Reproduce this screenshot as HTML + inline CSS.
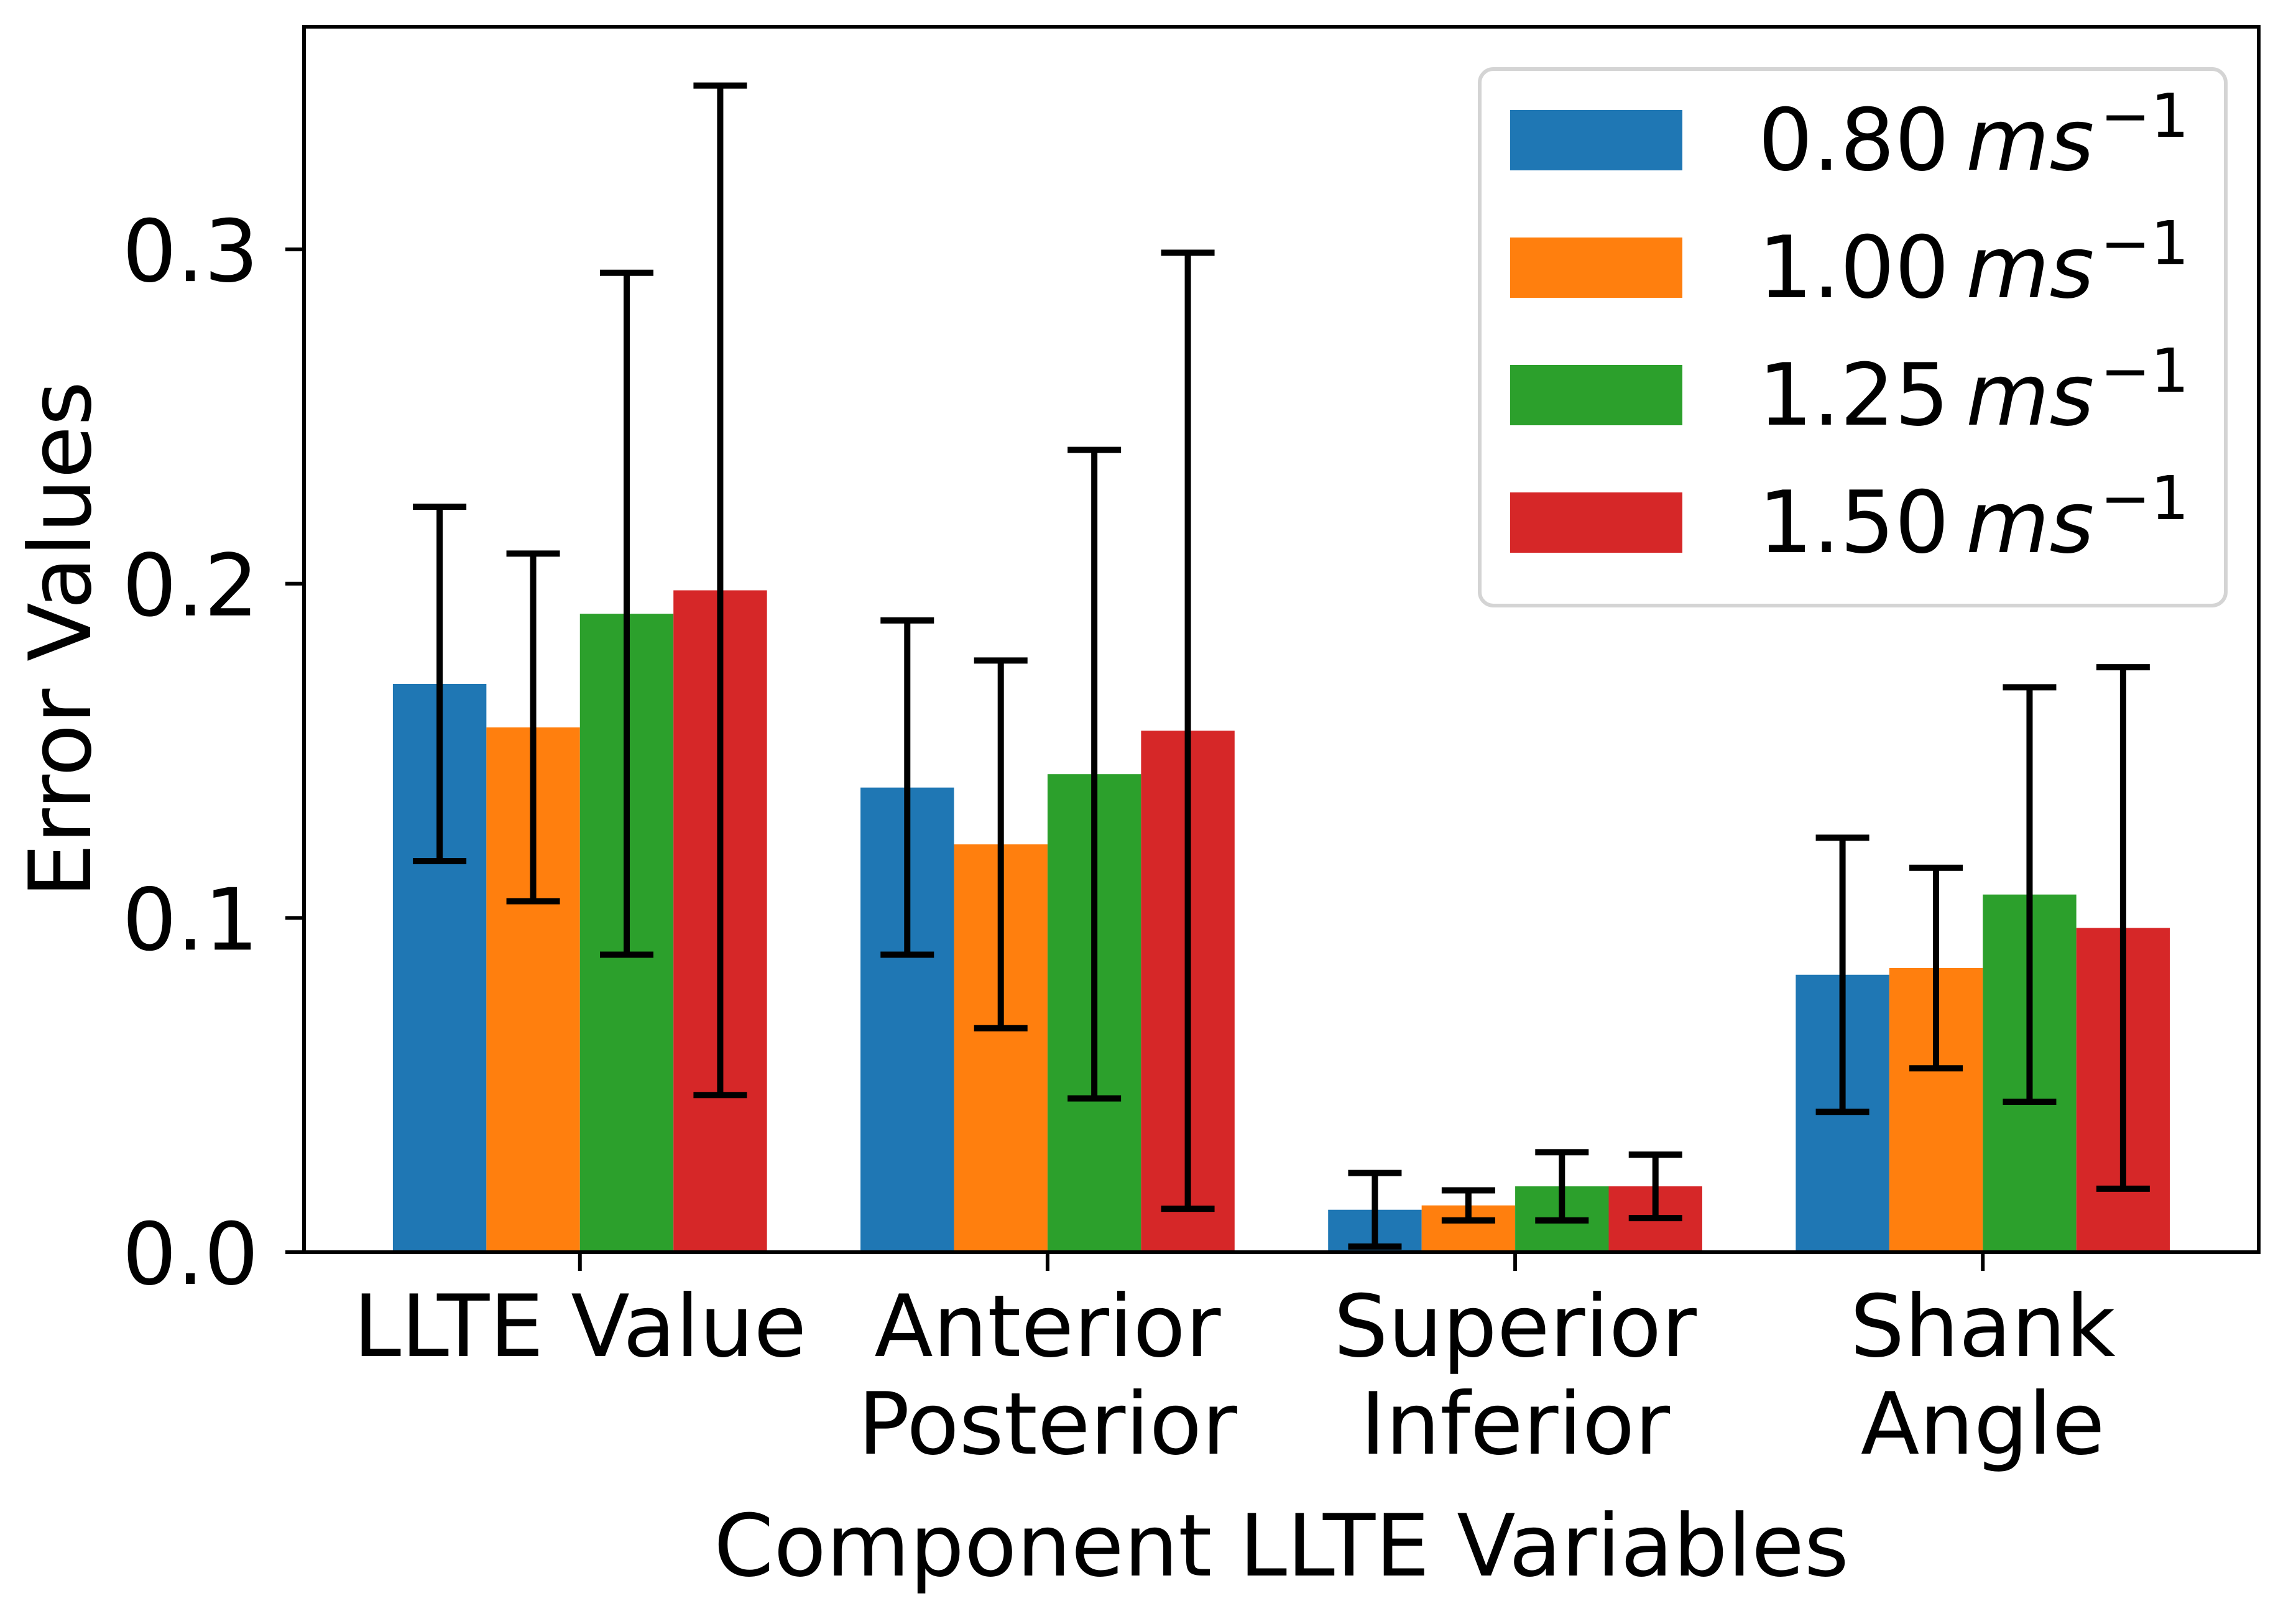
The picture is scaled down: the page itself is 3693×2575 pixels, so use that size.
<!DOCTYPE html>
<html><head><meta charset="utf-8"><style>
html,body{margin:0;padding:0;background:#fff;}
svg{display:block;font-family:"DejaVu Sans","Liberation Sans",sans-serif;}
</style></head><body>
<svg id="chart" width="3693" height="2575" viewBox="0 0 3693 2575" xmlns="http://www.w3.org/2000/svg">
<rect width="3693" height="2575" fill="#fff"/>
<g id="bars"></g>
<g id="errs"></g>
<g id="axes"></g>
</svg>
<script>
const categories = [["LLTE Value"], ["Anterior", "Posterior"], ["Superior", "Inferior"], ["Shank", "Angle"]];
const seriesNames = ["0.80", "1.00", "1.25", "1.50"];
const seriesColors = ["#1f77b4", "#ff7f0e", "#2ca02c", "#d62728"];
const means0 = [0.170, 0.139, 0.0127, 0.083];
const means1 = [0.157, 0.122, 0.0140, 0.085];
const means2 = [0.191, 0.143, 0.0197, 0.107];
const means3 = [0.198, 0.156, 0.0197, 0.097];
const errs0 = [0.053, 0.050, 0.011, 0.041];
const errs1 = [0.052, 0.055, 0.0045, 0.030];
const errs2 = [0.102, 0.097, 0.0102, 0.062];
const errs3 = [0.151, 0.143, 0.0095, 0.078];
const yTicks = [0.0, 0.1, 0.2, 0.3];
const yTickLabels = ["0.0", "0.1", "0.2", "0.3"];

const NS = "http://www.w3.org/2000/svg";
const L = 489, R = 3633, T = 43, B = 2014;
const xMin = -0.59, xMax = 3.59, yMin = 0, yMax = 0.3666;
const FS = 138;
const xs = v => L + (v - xMin) / (xMax - xMin) * (R - L);
const ys = v => B - (v - yMin) / (yMax - yMin) * (B - T);
function mk(tag, attrs, parent) {
  const e = document.createElementNS(NS, tag);
  for (const k in attrs) e.setAttribute(k, attrs[k]);
  parent.appendChild(e);
  return e;
}
const means = [means0, means1, means2, means3];
const errs = [errs0, errs1, errs2, errs3];
const barsG = document.getElementById('bars');
const errsG = document.getElementById('errs');
const axesG = document.getElementById('axes');
const bw = 0.2, capHalf = 43;
for (let s = 0; s < 4; s++) {
  for (let c = 0; c < categories.length; c++) {
    const cx = c + (s - 1.5) * bw;
    const v = means[s][c], e = errs[s][c];
    const r = mk('rect', {x: xs(cx - bw / 2), y: ys(v), width: xs(cx + bw / 2) - xs(cx - bw / 2), height: ys(0) - ys(v), fill: seriesColors[s]}, barsG);
    
    
    const g = mk('g', {stroke: '#000', 'stroke-width': 10}, errsG);
    
    
    const px = xs(cx);
    mk('line', {x1: px, x2: px, y1: ys(v + e), y2: ys(v - e)}, g);
    mk('line', {x1: px - capHalf, x2: px + capHalf, y1: ys(v + e), y2: ys(v + e)}, g);
    mk('line', {x1: px - capHalf, x2: px + capHalf, y1: ys(v - e), y2: ys(v - e)}, g);
  }
}
const frame = mk('rect', {x: L, y: T, width: R - L, height: B - T, fill: 'none', stroke: '#000', 'stroke-width': 6}, axesG);


for (let i = 0; i < yTicks.length; i++) {
  const y = ys(yTicks[i]);
  const tk = mk('line', {x1: L - 30, x2: L, y1: y, y2: y, stroke: '#000', 'stroke-width': 6}, axesG);
  
  
  const t = mk('text', {x: 416, y: y + 51, 'text-anchor': 'end', 'font-size': FS, fill: '#000'}, axesG);
  t.textContent = yTickLabels[i];
  
  
}
for (let c = 0; c < categories.length; c++) {
  const x = xs(c);
  const tk = mk('line', {x1: x, x2: x, y1: B, y2: B + 30, stroke: '#000', 'stroke-width': 6}, axesG);
  
  
  const t = mk('text', {x: x, y: 2181, 'text-anchor': 'middle', 'font-size': FS, fill: '#000'}, axesG);
  
  
  categories[c].forEach((line, i) => {
    const ts = mk('tspan', {x: x, y: 2181 + i * 157}, t);
    ts.textContent = line;
  });
}
const xt = mk('text', {x: (L + R) / 2, y: 2534, 'text-anchor': 'middle', 'font-size': FS, fill: '#000'}, axesG);
xt.textContent = 'Component LLTE Variables';


const yt = mk('text', {x: 0, y: 0, 'text-anchor': 'middle', 'font-size': FS, fill: '#000', transform: 'translate(145,' + ((T + B) / 2) + ') rotate(-90)'}, axesG);
yt.textContent = 'Error Values';


const lg = mk('g', {}, axesG);


mk('rect', {x: 2380, y: 111, width: 1200, height: 863, rx: 22, ry: 22, fill: '#fff', 'fill-opacity': 0.8, stroke: '#d4d4d4', 'stroke-width': 6}, lg);
for (let s = 0; s < 4; s++) {
  const top = 177 + s * 205;
  const e = mk('g', {}, lg);
  
  
  mk('rect', {x: 2429, y: top, width: 277, height: 97, fill: seriesColors[s]}, e);
  const base = top + 96;
  const t = mk('text', {x: 2828, y: base, 'font-size': FS, fill: '#000'}, e);
  const a = mk('tspan', {}, t); a.textContent = seriesNames[s];
  const b = mk('tspan', {x: 3162, 'font-style': 'italic'}, t); b.textContent = 'ms';
  const c2 = mk('tspan', {x: 3378, y: base - 53, 'font-size': 97}, t); c2.textContent = '\u22121';
}
</script>
</body></html>
